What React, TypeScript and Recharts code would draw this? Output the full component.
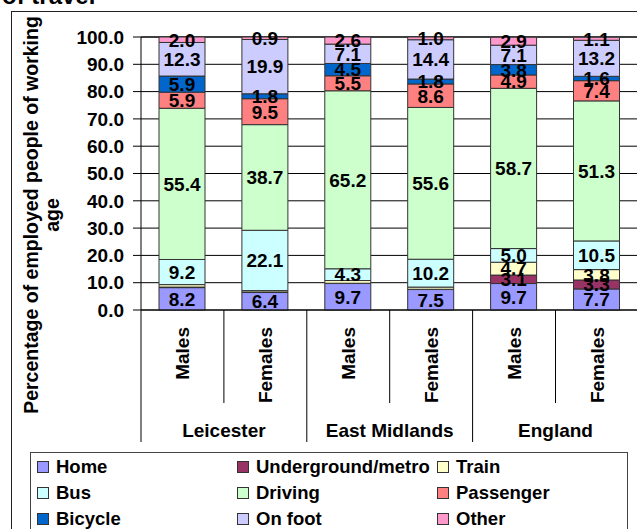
import React from 'react';
import { BarChart, Bar, XAxis, YAxis, CartesianGrid, LabelList, Legend } from 'recharts';

const categories = ['Males', 'Females', 'Males', 'Females', 'Males', 'Females'];
const groups = ['Leicester', 'East Midlands', 'England'];

const home = [8.2, 6.4, 9.7, 7.5, 9.7, 7.7];
const underground = [0.2, 0.2, 0.1, 0.1, 3.1, 3.3];
const train = [0.9, 0.5, 1.0, 0.8, 4.7, 3.8];
const bus = [9.2, 22.1, 4.3, 10.2, 5.0, 10.5];
const driving = [55.4, 38.7, 65.2, 55.6, 58.7, 51.3];
const passenger = [5.9, 9.5, 5.5, 8.6, 4.9, 7.4];
const bicycle = [5.9, 1.8, 4.5, 1.8, 3.8, 1.6];
const onFoot = [12.3, 19.9, 7.1, 14.4, 7.1, 13.2];
const other = [2.0, 0.9, 2.6, 1.0, 2.9, 1.1];

const yTicks = [0, 10, 20, 30, 40, 50, 60, 70, 80, 90, 100];

const seriesNames = ['Home', 'Underground/metro', 'Train', 'Bus', 'Driving', 'Passenger', 'Bicycle', 'On foot', 'Other'];
const seriesColors = ['#9999FF', '#993366', '#FFFFCC', '#CCFFFF', '#CCFFCC', '#FF8080', '#0066CC', '#CCCCFF', '#FF99CC'];
const seriesValues = [home, underground, train, bus, driving, passenger, bicycle, onFoot, other];
const labelMin = [0, 2, 2, 0, 0, 0, 0, 0, 0];

const titleTail = 'of travel';
const yLabelLines = ['Percentage of employed people of working', 'age'];

const data = categories.map((c, i) => {
  const row: any = { name: c, group: groups[Math.floor(i / 2)] };
  seriesValues.forEach((vals, k) => {
    row['s' + k] = vals[i];
  });
  return row;
});

const FONT = '"Liberation Sans", Arial, Helvetica, sans-serif';

const CW = 700;
const CH = 529;
const MARGIN = { top: 37, right: 61.6, left: 81, bottom: 89 };
const Y_W = 60;
const X_H = 130;
const BAND = (CW - MARGIN.left - Y_W - MARGIN.right) / categories.length;

const makeLabel = (min: number) => (p: any) => {
  const vb = p.viewBox && p.viewBox.width != null ? p.viewBox : p;
  const { x, y, width, height } = vb;
  const value = p.value;
  if (value == null || Number(value) < min) return null;
  if (x == null || y == null) return null;
  return (
    <text
      x={x + width / 2}
      y={y + height / 2}
      dy="0.36em"
      textAnchor="middle"
      fontFamily={FONT}
      fontWeight={700}
      fontSize={19}
      fill="#000"
    >
      {Number(value).toFixed(1)}
    </text>
  );
};

const XTick = (props: any) => {
  const { x, y, payload } = props;
  const i = props.index != null ? props.index : payload.index;
  const half = BAND / 2;
  const isSecond = i % 2 === 1;
  return (
    <g>
      {i === 0 && <line x1={x - half} y1={y} x2={x - half} y2={y + 132} stroke="#000" strokeWidth={1} />}
      <line x1={x + half} y1={y} x2={x + half} y2={y + (isSecond ? 132 : 93)} stroke="#000" strokeWidth={1} />
      <text
        transform={`rotate(-90, ${x}, ${y + 17})`}
        x={x}
        y={y + 17}
        dy="0.36em"
        textAnchor="end"
        fontFamily={FONT}
        fontWeight={700}
        fontSize={19}
        fill="#000"
      >
        {payload.value}
      </text>
      {!isSecond && (
        <text
          x={x + half}
          y={y + 127}
          textAnchor="middle"
          fontFamily={FONT}
          fontWeight={700}
          fontSize={19}
          fill="#000"
        >
          {groups[Math.floor(i / 2)]}
        </text>
      )}
    </g>
  );
};

const YLabel = () => (
  <g>
    {yLabelLines.map((line, k) => (
      <text
        key={k}
        transform={`rotate(-90, ${38 + k * 21}, 215)`}
        x={38 + k * 21}
        y={215}
        textAnchor="middle"
        fontFamily={FONT}
        fontWeight={700}
        fontSize={19.5}
        fill="#000"
      >
        {line}
      </text>
    ))}
  </g>
);

const colX = [6, 206, 406];

const LegendBox = () => (
  <div
    style={{
      width: 598,
      height: 100,
      boxSizing: 'border-box',
      border: '1px solid #444',
      background: '#fff',
      position: 'relative',
      fontFamily: FONT,
      fontWeight: 700,
      fontSize: 18.5,
      color: '#000',
    }}
  >
    {seriesNames.map((n, k) => {
      const col = k % 3;
      const row = Math.floor(k / 3);
      return (
        <div
          key={n}
          style={{
            position: 'absolute',
            left: colX[col],
            top: 15 + row * 26 - 11 - 1,
            height: 22,
            display: 'flex',
            alignItems: 'center',
            whiteSpace: 'nowrap',
            lineHeight: '22px',
          }}
        >
          <span
            style={{
              display: 'inline-block',
              width: 12,
              height: 12,
              boxSizing: 'border-box',
              border: '1px solid #333',
              background: seriesColors[k],
              marginRight: 7,
            }}
          />
          <span>{n}</span>
        </div>
      );
    })}
  </div>
);

export default function App() {
  return (
    <div style={{ position: 'absolute', left: 0, top: 0, width: 637, height: 529, overflow: 'hidden', background: '#fff' }}>
      <svg style={{ position: 'absolute', left: 0, top: 0 }} width={200} height={20}>
        <text x={2} y={4} fontFamily={FONT} fontWeight={700} fontSize={24} fill="#000">
          {titleTail}
        </text>
      </svg>
      <div
        style={{
          position: 'absolute',
          left: 11,
          top: 11,
          width: 700,
          height: 600,
          border: '1px solid #222',
          boxSizing: 'border-box',
        }}
      />
      <div style={{ position: 'absolute', left: 0, top: 0 }}>
        <BarChart width={CW} height={CH} data={data} margin={MARGIN} barSize={46}>
          <CartesianGrid horizontal={true} vertical={false} stroke="#000" strokeWidth={1} />
          <XAxis
            dataKey="name"
            height={X_H}
            interval={0}
            tickLine={false}
            tickSize={0}
            tickMargin={0}
            axisLine={{ stroke: '#000' }}
            tick={<XTick />}
          />
          <YAxis
            width={Y_W}
            domain={[0, 100]}
            ticks={yTicks}
            interval={0}
            tickFormatter={(v: number) => v.toFixed(1)}
            tickSize={8}
            tickMargin={9}
            axisLine={{ stroke: '#000' }}
            tickLine={{ stroke: '#000' }}
            tick={{ fontFamily: FONT, fontWeight: 700, fontSize: 19, fill: '#000' }}
            label={{ content: () => <YLabel /> }}
          />
          <Legend
            layout="horizontal"
            verticalAlign="middle"
            align="center"
            width={598}
            height={100}
            wrapperStyle={{ left: 30, top: 452, width: 598, height: 100 }}
            content={() => <LegendBox />}
          />
          {seriesNames.map((n, k) => (
            <Bar
              key={n}
              dataKey={'s' + k}
              name={n}
              stackId="a"
              fill={seriesColors[k]}
              stroke="#333"
              strokeWidth={1}
              isAnimationActive={false}
            >
              <LabelList dataKey={'s' + k} content={makeLabel(labelMin[k])} />
            </Bar>
          ))}
        </BarChart>
      </div>
    </div>
  );
}
